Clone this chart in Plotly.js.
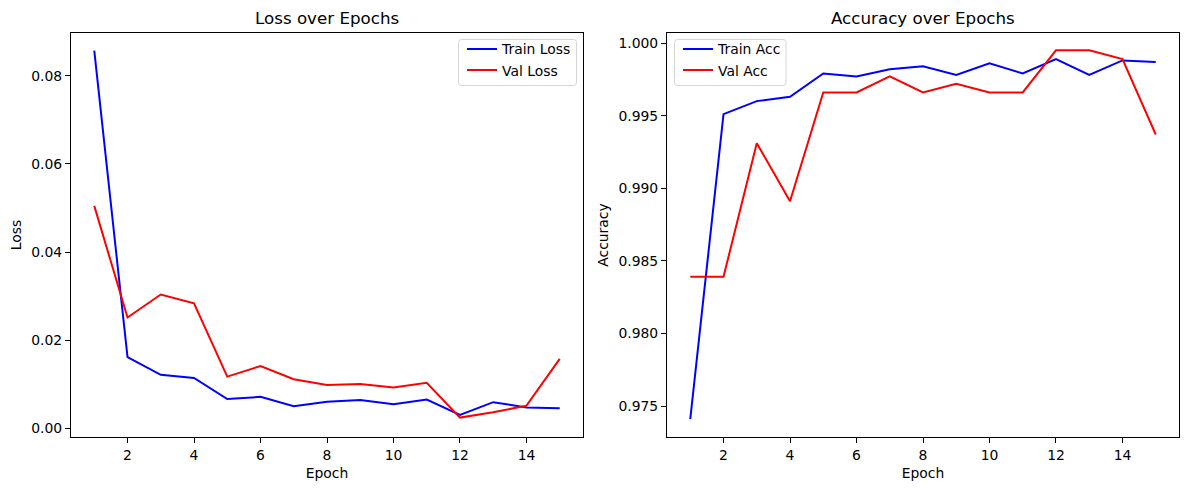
<!DOCTYPE html>
<html>
<head>
<meta charset="utf-8">
<script src="https://cdn.plot.ly/plotly-3.0.1.min.js"></script>
<style>html,body{margin:0;padding:0;background:#fff;}#chart{width:1189px;height:490px;}</style>
</head>
<body>
<div id="chart"></div>
<script>
const epochs = [1,2,3,4,5,6,7,8,9,10,11,12,13,14,15];
const trainLoss = [0.0857,0.0162,0.0122,0.0115,0.0067,0.0072,0.0051,0.0061,0.0065,0.0055,0.0066,0.0031,0.0060,0.0048,0.0046];
const valLoss = [0.0505,0.0252,0.0304,0.0284,0.0118,0.0142,0.0112,0.0099,0.0101,0.0093,0.0104,0.0025,0.0037,0.0052,0.0158];
const trainAcc = [0.9741,0.9951,0.9960,0.9963,0.9979,0.9977,0.9982,0.9984,0.9978,0.9986,0.9979,0.9989,0.9978,0.9988,0.9987];
const valAcc = [0.9839,0.9839,0.9931,0.9891,0.9966,0.9966,0.9977,0.9966,0.9972,0.9966,0.9966,0.9995,0.9995,0.9989,0.9937];
const titles = ['Loss over Epochs','Accuracy over Epochs'];

const W = 1189, H = 490;
const FONT = 'DejaVu Sans, sans-serif';
const tickFont = {family: FONT, size: 13.9, color: '#000'};
const lw = 2;

const traces = [
  {x: epochs, y: trainLoss, name: 'Train Loss', mode: 'lines', line: {color: '#0000ff', width: lw}, xaxis: 'x', yaxis: 'y', legend: 'legend'},
  {x: epochs, y: valLoss, name: 'Val Loss', mode: 'lines', line: {color: '#ff0000', width: lw}, xaxis: 'x', yaxis: 'y', legend: 'legend'},
  {x: epochs, y: trainAcc, name: 'Train Acc', mode: 'lines', line: {color: '#0000ff', width: lw}, xaxis: 'x2', yaxis: 'y2', legend: 'legend2'},
  {x: epochs, y: valAcc, name: 'Val Acc', mode: 'lines', line: {color: '#ff0000', width: lw}, xaxis: 'x2', yaxis: 'y2', legend: 'legend2'}
];

const px = v => v / W;
const py = v => (H - v) / H;

function xax(domain, anchor) {
  return {
    domain: domain, anchor: anchor, range: [0.3, 15.7], tick0: 0, dtick: 2,
    showgrid: false, zeroline: false, showline: true, mirror: true, linecolor: '#000', linewidth: 1,
    ticks: 'outside', ticklen: 5, tickwidth: 1, tickcolor: '#000', tickfont: tickFont,
    title: {text: 'Epoch', font: {family: FONT, size: 13.9, color: '#000'}, standoff: 6},
    automargin: false
  };
}
function yax(range, dtick, fmt, title, anchor) {
  return {
    domain: [py(437), py(33)], anchor: anchor, range: range, tick0: 0, dtick: dtick, tickformat: fmt,
    showgrid: false, zeroline: false, showline: true, mirror: true, linecolor: '#000', linewidth: 1,
    ticks: 'outside', ticklen: 5, tickwidth: 1, tickcolor: '#000', tickfont: tickFont,
    title: {text: title, font: {family: FONT, size: 13.9, color: '#000'}, standoff: 6},
    automargin: false
  };
}

// rounded legend frame drawn as a paper-referenced path (pixel coords converted)
function roundBox(x0, y0, x1, y1, r) {
  const X = v => px(v), Y = v => py(v);
  return 'M' + X(x0 + r) + ',' + Y(y0) +
    ' L' + X(x1 - r) + ',' + Y(y0) + ' Q' + X(x1) + ',' + Y(y0) + ' ' + X(x1) + ',' + Y(y0 + r) +
    ' L' + X(x1) + ',' + Y(y1 - r) + ' Q' + X(x1) + ',' + Y(y1) + ' ' + X(x1 - r) + ',' + Y(y1) +
    ' L' + X(x0 + r) + ',' + Y(y1) + ' Q' + X(x0) + ',' + Y(y1) + ' ' + X(x0) + ',' + Y(y1 - r) +
    ' L' + X(x0) + ',' + Y(y0 + r) + ' Q' + X(x0) + ',' + Y(y0) + ' ' + X(x0 + r) + ',' + Y(y0) + ' Z';
}

const legFont = {family: FONT, size: 13.9, color: '#000'};
const layout = {
  width: W, height: H,
  margin: {l: 0, r: 0, t: 0, b: 0},
  paper_bgcolor: '#fff', plot_bgcolor: '#fff',
  font: {family: FONT, color: '#000'},
  xaxis: xax([px(71), px(583)], 'y'),
  yaxis: yax([-0.0019, 0.0897], 0.02, '.2f', 'Loss', 'x'),
  xaxis2: xax([px(667), px(1179)], 'y2'),
  yaxis2: yax([0.97287, 1.00069], 0.005, '.3f', 'Accuracy', 'x2'),
  legend: {x: px(462), xanchor: 'left', y: py(33.5), yanchor: 'top', bgcolor: 'rgba(0,0,0,0)', borderwidth: 0, font: legFont, tracegroupgap: 0, itemwidth: 30},
  legend2: {x: px(678), xanchor: 'left', y: py(33.5), yanchor: 'top', bgcolor: 'rgba(0,0,0,0)', borderwidth: 0, font: legFont, tracegroupgap: 0, itemwidth: 30},
  showlegend: true,
  shapes: [
    {type: 'path', xref: 'paper', yref: 'paper', path: roundBox(458.5, 39.5, 576.5, 85.5, 3), fillcolor: 'rgba(255,255,255,0.8)', line: {color: '#d6d6d6', width: 1}, layer: 'above'},
    {type: 'path', xref: 'paper', yref: 'paper', path: roundBox(674.5, 39.5, 786, 85.5, 3), fillcolor: 'rgba(255,255,255,0.8)', line: {color: '#d6d6d6', width: 1}, layer: 'above'}
  ],
  annotations: [
    {text: titles[0], xref: 'paper', yref: 'paper', x: px(327), y: py(18), xanchor: 'center', yanchor: 'middle', showarrow: false, font: {family: FONT, size: 16.7, color: '#000'}},
    {text: titles[1], xref: 'paper', yref: 'paper', x: px(923), y: py(18), xanchor: 'center', yanchor: 'middle', showarrow: false, font: {family: FONT, size: 16.7, color: '#000'}}
  ]
};

Plotly.newPlot('chart', traces, layout, {staticPlot: true, displayModeBar: false});
</script>
</body>
</html>
